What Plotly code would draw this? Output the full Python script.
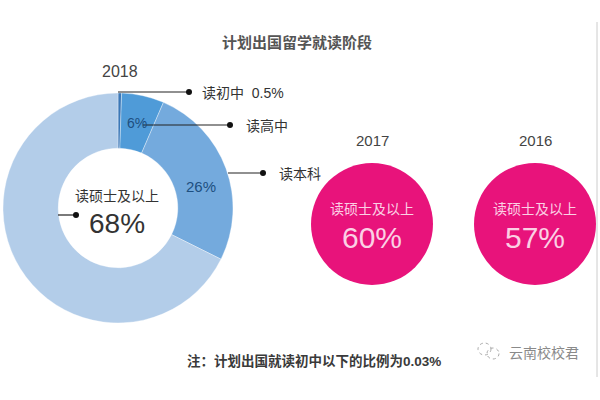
import plotly.graph_objects as go

# ---- data ----
stages = ["读初中", "读高中", "读本科", "读硕士及以上"]
share_2018 = [0.5, 6, 26, 68]
years = ["2017", "2016"]
master_share = [60, 57]
title_text = "计划出国留学就读阶段"
note_text = "注：计划出国就读初中以下的比例为0.03%"
brand_text = "云南校校君"

W, H = 600, 400
FONT = "Liberation Sans, Arial, Noto Sans CJK SC, sans-serif"
CJK = "Noto Sans CJK SC, sans-serif"


def px(x):
    return x / W


def py(y):
    return 1 - y / H


fig = go.Figure()

# 2018 donut
fig.add_trace(go.Pie(
    values=share_2018,
    labels=stages,
    sort=False,
    direction="clockwise",
    rotation=0,
    hole=0.52,
    marker=dict(colors=["#3b78b8", "#4f9bd8", "#74aadd", "#b3cde9"],
                line=dict(color="rgba(255,255,255,0.6)", width=0.6)),
    textinfo="none",
    hoverinfo="label+value",
    showlegend=False,
    domain=dict(x=[px(3), px(233)], y=[py(323), py(93)]),
))

# 2017 / 2016 circles
fig.add_trace(go.Scatter(
    x=years,
    y=[0] * len(years),
    mode="markers",
    marker=dict(size=122, color="#e8137b", line=dict(width=0)),
    hoverinfo="x",
    showlegend=False,
))

fig.update_xaxes(type="category", visible=False,
                 range=[-372 / 163, -372 / 163 + W / 163],
                 domain=[0, 1], fixedrange=True)
fig.update_yaxes(visible=False, range=[-1, 1], domain=[0, 0.88], fixedrange=True)

ann = []
shapes = []


def text_at(x, y, txt, family, size, color, xanchor="center"):
    ann.append(dict(x=px(x), y=py(y), xref="paper", yref="paper", text=txt,
                    showarrow=False, xanchor=xanchor, yanchor="middle",
                    font=dict(family=family, size=size, color=color)))


# title and 2018 label
text_at(297, 41, f"<b>{title_text}</b>", CJK, 15, "#555555")
text_at(120, 72, "2018", FONT, 16, "#444444")

# donut inner labels
text_at(137, 123, f"{share_2018[1]:g}%", FONT, 14, "#1d4f80")
text_at(201, 186, f"{share_2018[2]:g}%", FONT, 15, "#1d4f80")
text_at(117, 195, stages[3], CJK, 14, "#333333")
text_at(117, 223, f"{share_2018[3]:g}%", FONT, 28, "#333333")

# callout lines + dots + labels
callouts = [
    (118, 189, 92, 200, f"{stages[0]}  {share_2018[0]:g}%"),
    (143, 230, 125, 244, stages[1]),
    (228, 263, 173, 277, stages[2]),
]
for x0, x1, y, tx, txt in callouts:
    shapes.append(dict(type="line", xref="paper", yref="paper",
                       x0=px(x0), x1=px(x1), y0=py(y), y1=py(y),
                       line=dict(color="#222222", width=1.2)))
    shapes.append(dict(type="circle", xref="paper", yref="paper",
                       x0=px(x1 - 3), x1=px(x1 + 3), y0=py(y - 3), y1=py(y + 3),
                       fillcolor="#111111", line=dict(width=0)))
    text_at(tx, y + 1, txt, FONT, 14, "#333333", xanchor="left")

# small marker inside the hole
shapes.append(dict(type="line", xref="paper", yref="paper",
                   x0=px(58), x1=px(76), y0=py(215), y1=py(215),
                   line=dict(color="#222222", width=1.2)))
shapes.append(dict(type="circle", xref="paper", yref="paper",
                   x0=px(73), x1=px(79), y0=py(212), y1=py(218),
                   fillcolor="#111111", line=dict(width=0)))

# circle texts
for i, (yr, val) in enumerate(zip(years, master_share)):
    for shift, txt, fam, size, col in [
        (84, yr, FONT, 15, "#444444"),
        (16, stages[3], CJK, 14, "#fbd0e4"),
        (-13, f"{val}%", FONT, 30, "#fbd0e4"),
    ]:
        ann.append(dict(x=i, y=0, xref="x", yref="y", yshift=shift, text=txt,
                        showarrow=False, xanchor="center", yanchor="middle",
                        font=dict(family=fam, size=size, color=col)))

# footnote
text_at(185, 361, f"<b>{note_text}</b>", FONT, 13.5, "#3a3a3a", xanchor="left")
# watermark
text_at(507, 352, brand_text, CJK, 14, "#8a8a8a", xanchor="left")
shapes.append(dict(type="circle", xref="paper", yref="paper",
                   x0=px(478), x1=px(491), y0=py(343), y1=py(355),
                   line=dict(color="#aaaaaa", width=1, dash="dot")))
shapes.append(dict(type="circle", xref="paper", yref="paper",
                   x0=px(487), x1=px(499), y0=py(348), y1=py(359),
                   line=dict(color="#aaaaaa", width=1, dash="dot")))
# right border line
shapes.append(dict(type="line", xref="paper", yref="paper",
                   x0=px(597), x1=px(597), y0=py(22), y1=py(377),
                   line=dict(color="#cccccc", width=1)))

fig.update_layout(
    width=W, height=H,
    margin=dict(l=0, r=0, t=0, b=0),
    paper_bgcolor="white", plot_bgcolor="white",
    annotations=ann, shapes=shapes,
    showlegend=False,
)

fig.write_html("out.html", config={"displayModeBar": False},
               post_script="document.body.style.margin='0';")
